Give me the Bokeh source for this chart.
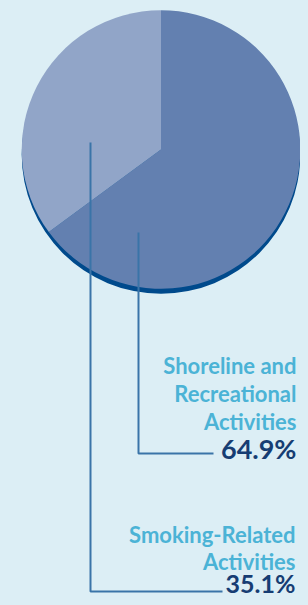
import math
from bokeh.plotting import figure
from bokeh.models import Range1d
from bokeh.core.properties import value
from bokeh.embed import file_html
from bokeh.resources import INLINE

# ---- data ----
categories = ["Shoreline and Recreational Activities", "Smoking-Related Activities"]
label_lines = [["Shoreline and", "Recreational", "Activities"], ["Smoking-Related", "Activities"]]
shares = [64.9, 35.1]
pct_labels = ["64.9%", "35.1%"]
slice_colors = ["#6380b0", "#91a5c8"]

BG = "#dceef5"
W, H = 300, 597

p = figure(width=W, height=H, output_backend="svg", toolbar_location=None,
           x_range=Range1d(0, W), y_range=Range1d(0, H),
           min_border=0, background_fill_color=BG, border_fill_color=BG)
p.axis.visible = False
p.grid.visible = False
p.outline_line_color = None

def Y(py):
    # screen y (from top of the plot) -> data y
    return H - py

cx, cy, r = 160.5, 149, 139.3

# shadow
p.circle(x=[cx], y=[Y(cy + 5)], radius=r, fill_color="#004a8c", line_color=None)

# slices: start at 12 o'clock, going clockwise
total = sum(shares)
start = math.pi / 2
starts, ends = [], []
for s in shares:
    sweep = 2 * math.pi * s / total
    ends.append(start)
    starts.append(start - sweep)
    start = start - sweep
p.wedge(x=[cx] * 2, y=[Y(cy)] * 2, radius=r, start_angle=starts, end_angle=ends,
        fill_color=slice_colors, line_color=None)

# leader lines
line_col = "#3a74a8"
p.line(x=[138, 138, 213], y=[Y(232), Y(453), Y(453)], line_color=line_col, line_width=2)
p.line(x=[90, 90, 222], y=[Y(142), Y(591), Y(591)], line_color=line_col, line_width=2)

# labels (anchor y compensates for Bokeh's baseline placement)
font = value("Lato")
lab_col = "#4bb3d6"
pct_col = "#163d73"
for lines, pct, base, step, pbase, psize, right in [
        (label_lines[0], pct_labels[0], 364.5, 28, 448, "27px", 296),
        (label_lines[1], pct_labels[1], 533.5, 27.5, 582, "25px", 295)]:
    ys = [Y(base + step * i) for i in range(len(lines))]
    p.text(x=[right] * len(lines), y=ys, text=lines, text_font=font,
           text_font_size="22px", text_font_style="bold", text_color=lab_col,
           text_align="right", text_baseline="alphabetic")
    p.text(x=[right], y=[Y(pbase)], text=[pct], text_font=font,
           text_font_size=psize, text_font_style="bold", text_color=pct_col,
           text_align="right", text_baseline="alphabetic")

html = file_html(p, INLINE)
html = html.replace("<head>", "<head><style>html,body{background:%s;}</style>" % BG, 1)
open("out.html", "w").write(html)
